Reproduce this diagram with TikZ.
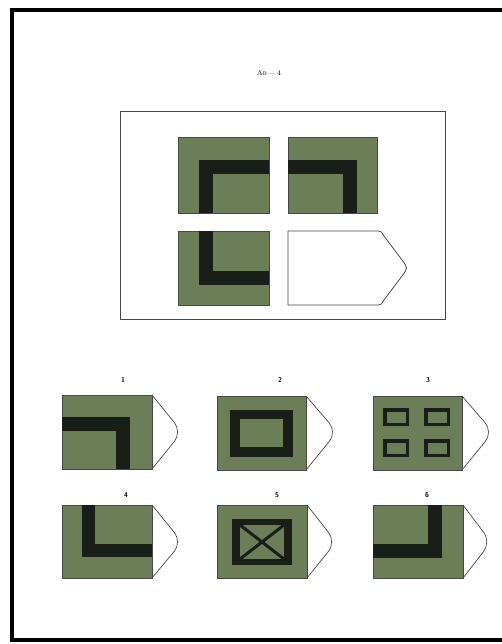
\documentclass[tikz,border=0pt]{standalone}
\usepackage{tikz}
\usetikzlibrary{positioning}

\definecolor{olivegreen}{RGB}{108,126,88}
\definecolor{bandblack}{RGB}{26,30,24}
\definecolor{edgegray}{RGB}{70,72,68}

\begin{document}
\begin{tikzpicture}[x=1pt, y=-1pt,
    tile/.style={fill=olivegreen, draw=edgegray, line width=0.8pt},
    band/.style={fill=bandblack},
    tip/.style={fill=white, draw=edgegray, line width=0.7pt, rounded corners=12pt},
    numlabel/.style={font=\sffamily\bfseries\scriptsize, inner sep=1pt}]

  \useasboundingbox (0,0) rectangle (502,644);

  %--- Page frame
  \draw[line width=4pt] (502,10) -- (12,10) -- (12,640) -- (502,640);

  %--- Title
  \node[font=\scriptsize] (title) at (269,73) {A\textsc{b}\,---\,4};

  %--- Problem box
  \draw[edgegray, line width=1pt] (120,112) rectangle (445,319);

  % top left
  \draw[tile] (178,137) rectangle (269,213);
  \fill[band] (199,160) rectangle (269,174);
  \fill[band] (199,160) rectangle (213,213);
  % top right
  \draw[tile] (288,137) rectangle (377,213);
  \fill[band] (288,160) rectangle (357,174);
  \fill[band] (343,160) rectangle (357,213);
  % bottom left
  \draw[tile] (178,231) rectangle (269,305);
  \fill[band] (199,231) rectangle (213,285);
  \fill[band] (199,271) rectangle (269,285);
  % empty slot
  \draw[fill=white, draw=edgegray, line width=0.8pt]
    (288,305) -- (288,231) -- (376,231)
    .. controls (381,231) .. (384,236) -- (402,260)
    .. controls (408,268) .. (402,276) -- (384,300)
    .. controls (381,305) .. (376,305) -- cycle;

  %--- Answer options, first row
  \node[numlabel] (n1) at (123,380) {1};
  \draw[tip] (152,395) -- (182,432) -- (152,469);
  \draw[tile] (62,395) rectangle (152,469);
  \fill[band] (62,417) rectangle (130,431);
  \fill[band] (116,417) rectangle (130,469);

  \node[numlabel] (n2) at (280,380) {2};
  \draw[tip] (306,396) -- (337,432) -- (306,470);
  \draw[tile] (217,396) rectangle (306,470);
  \fill[band] (230,410) rectangle (293,457);
  \fill[olivegreen] (240,419) rectangle (283,447);

  \node[numlabel] (n3) at (428,380) {3};
  \draw[tip] (462,396) -- (493,432) -- (462,470);
  \draw[tile] (373,396) rectangle (462,470);
  \foreach \bx/\by in {383/408, 424/408, 383/439, 424/439}
    \draw[fill=olivegreen, draw=bandblack, line width=3.5pt]
      (\bx+1.75,\by+1.75) rectangle (\bx+24.25,\by+16.25);

  %--- Answer options, second row
  \node[numlabel] (n4) at (126,495) {4};
  \draw[tip] (152,505) -- (182,542) -- (152,578);
  \draw[tile] (62,505) rectangle (152,578);
  \fill[band] (82,505) rectangle (95,557);
  \fill[band] (82,544) rectangle (152,557);

  \node[numlabel] (n5) at (277,495) {5};
  \draw[tip] (307,505) -- (336,542) -- (307,578);
  \draw[tile] (217,505) rectangle (307,578);
  \fill[band] (232,519) rectangle (292,565);
  \fill[olivegreen] (240,525) rectangle (284,559);
  \draw[bandblack, line width=3pt] (240,525) -- (284,559) (240,559) -- (284,525);

  \node[numlabel] (n6) at (427,495) {6};
  \draw[tip] (463,505) -- (491,542) -- (463,578);
  \draw[tile] (373,505) rectangle (463,578);
  \fill[band] (428,505) rectangle (442,558);
  \fill[band] (373,544) rectangle (442,558);

\end{tikzpicture}
\end{document}
